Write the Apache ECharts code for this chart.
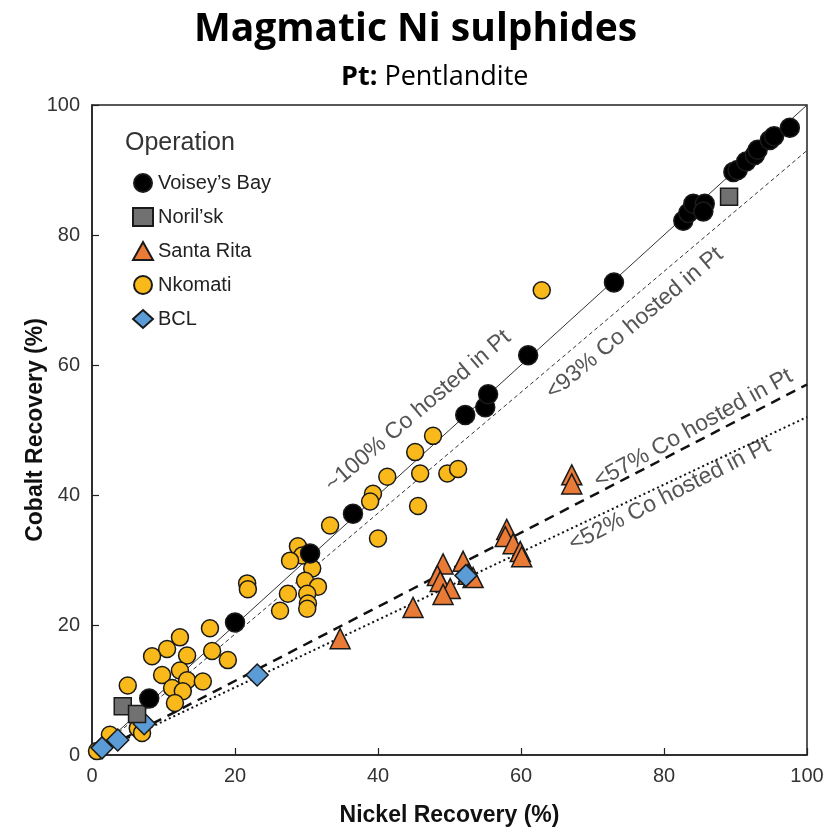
<!DOCTYPE html>
<html><head><meta charset="utf-8">
<script src="https://cdn.jsdelivr.net/npm/echarts@6/dist/echarts.min.js"></script>
<style>html,body{margin:0;padding:0;background:#fff}#c{width:831px;height:832px}</style>
</head><body><div id="c"></div>
<script>
// ---------- data ----------
const seriesNames = ['Voisey\u2019s Bay', 'Noril\u2019sk', 'Santa Rita', 'Nkomati', 'BCL'];

const voiseyNi = [8.0, 20.0, 30.5, 36.5, 52.2, 55.0, 55.4, 61.0, 73.0, 82.7, 83.4, 84.1, 85.7, 85.5, 89.7, 90.3, 91.5, 92.7, 93.1, 94.8, 95.4, 97.6];
const voiseyCo = [8.7, 20.4, 31.0, 37.1, 52.3, 53.5, 55.5, 61.5, 72.7, 82.2, 83.4, 84.8, 84.8, 83.6, 89.7, 90.0, 91.3, 92.3, 93.1, 94.6, 95.2, 96.5];

const norilskNi = [4.3, 6.3, 89.1];
const norilskCo = [7.5, 6.3, 85.9];

const santaRitaNi = [34.7, 44.9, 49.1, 48.3, 48.7, 50.1, 49.1, 51.9, 52.6, 53.3, 58.0, 57.8, 58.9, 59.9, 60.1, 67.1, 67.1];
const santaRitaCo = [17.9, 22.7, 29.4, 27.6, 26.7, 25.6, 24.7, 29.8, 27.8, 27.3, 34.7, 33.6, 32.5, 31.3, 30.5, 43.1, 41.7];

const nkomatiNi = [62.9, 47.7, 45.2, 41.3, 39.3, 38.9, 45.9, 49.7, 51.2, 45.6, 40.0, 33.3, 28.8, 29.4, 27.7, 30.8, 29.8, 31.6, 27.4, 30.1, 30.2, 30.1, 26.3, 21.7, 21.8, 16.5, 12.3, 10.5, 8.4, 13.3, 16.8, 19.0, 9.8, 12.3, 13.3, 15.5, 11.2, 12.7, 11.6, 5.0, 0.7, 2.5, 6.4, 7.0];
const nkomatiCo = [71.5, 49.1, 46.6, 42.8, 40.2, 39.0, 43.3, 43.3, 44.0, 38.3, 33.3, 35.3, 32.1, 30.7, 29.9, 28.7, 26.8, 25.9, 24.8, 24.8, 23.3, 22.5, 22.2, 26.4, 25.5, 19.5, 18.1, 16.3, 15.2, 15.3, 16.0, 14.6, 12.3, 13.0, 11.5, 11.3, 10.3, 9.8, 8.0, 10.7, 0.6, 3.1, 4.1, 3.4];

const bclNi = [1.4, 3.6, 7.3, 23.1, 52.3];
const bclCo = [1.1, 2.3, 4.8, 12.3, 27.6];

// reference lines: Co recovery at Ni = 0 and Ni = 100
const refNames = ['~100% Co hosted in Pt', '<93% Co hosted in Pt', '<57% Co hosted in Pt', '<52% Co hosted in Pt'];
const refEndNi = [100, 100, 100, 100];
const refEndCo = [100, 93, 57, 52];

const xTicks = [0, 20, 40, 60, 80, 100];
const yTicks = [0, 20, 40, 60, 80, 100];

// ---------- layout / style (not data) ----------
const labelAnchor = [[45.6, 52.9], [75.9, 66.4], [84.1, 50.2], [80.8, 40.0]];
const labelRotDeg = [40.5, 40, 29, 27];
const refStyles = [
  {color: '#333', width: 1, type: 'solid'},
  {color: '#333', width: 1, type: [4, 3]},
  {color: '#111', width: 2.5, type: [10, 7]},
  {color: '#111', width: 2, type: [2, 3]}
];

const zip = (a, b) => a.map((v, i) => [v, b[i]]);

const chart = echarts.init(document.getElementById('c'), null, {renderer: 'canvas'});

const scatterDefs = [
  {name: seriesNames[3], x: nkomatiNi, y: nkomatiCo, symbol: 'circle', size: 17, color: '#F9B91A', z: 3},
  {name: seriesNames[2], x: santaRitaNi, y: santaRitaCo, symbol: 'triangle', size: 20, color: '#E97B36', z: 4},
  {name: seriesNames[4], x: bclNi, y: bclCo, symbol: 'diamond', size: 22, color: '#5B9BD6', z: 5},
  {name: seriesNames[1], x: norilskNi, y: norilskCo, symbol: 'rect', size: 17, color: '#717171', z: 6},
  {name: seriesNames[0], x: voiseyNi, y: voiseyCo, symbol: 'circle', size: 19, color: '#000', z: 7}
];

const series = [];
refNames.forEach((n, i) => {
  series.push({
    type: 'line', name: n, data: [[0, 0], [refEndNi[i], refEndCo[i]]],
    showSymbol: false, silent: true, z: 2,
    lineStyle: refStyles[i]
  });
});
scatterDefs.forEach(d => {
  series.push({
    type: 'scatter', name: d.name, data: zip(d.x, d.y),
    symbol: d.symbol, symbolSize: d.size, z: d.z,
    itemStyle: {color: d.color, borderColor: '#1a1a1a', borderWidth: 1.5, opacity: 1}
  });
});

const axisLabelStyle = {fontFamily: 'Liberation Sans', fontSize: 20, color: '#333'};

chart.setOption({
  animation: false,
  backgroundColor: '#fff',
  title: [
    {text: 'Magmatic Ni sulphides', left: 'center', top: 5,
     textStyle: {fontFamily: 'Open Sans', fontWeight: 'bold', fontSize: 39, color: '#000'}},
    {text: '{b|Pt:} Pentlandite', left: 336, top: 59,
     textStyle: {fontFamily: 'Open Sans', fontWeight: 'normal', fontSize: 27, color: '#000',
       rich: {b: {fontFamily: 'Open Sans', fontWeight: 'bold', fontSize: 27, color: '#000'}}}}
  ],
  grid: {left: 92, right: 24, top: 105, bottom: 75, show: true, borderColor: '#222', borderWidth: 1.5},
  legend: {
    data: seriesNames, orient: 'vertical', left: 127, top: 168,
    itemWidth: 20, itemHeight: 18, itemGap: 14,
    textStyle: {fontFamily: 'Liberation Sans', fontSize: 20, color: '#222', padding: [0, 0, 0, 0]}
  },
  xAxis: {
    type: 'value', min: 0, max: 100, interval: 20,
    name: 'Nickel Recovery (%)', nameLocation: 'middle', nameGap: 49, nameMoveOverlap: false,
    nameTextStyle: {fontFamily: 'Liberation Sans', fontWeight: 'bold', fontSize: 23, color: '#111'},
    axisLine: {lineStyle: {color: '#222', width: 1.5}},
    axisTick: {inside: true, length: 7, lineStyle: {color: '#222', width: 1.2}},
    axisLabel: Object.assign({margin: 11, formatter: v => xTicks.includes(v) ? String(v) : ''}, axisLabelStyle),
    splitLine: {show: false}
  },
  yAxis: {
    type: 'value', min: 0, max: 100, interval: 20,
    name: 'Cobalt Recovery (%)', nameLocation: 'middle', nameGap: 45, nameMoveOverlap: false,
    nameTextStyle: {fontFamily: 'Liberation Sans', fontWeight: 'bold', fontSize: 23, color: '#111'},
    axisLine: {lineStyle: {color: '#222', width: 1.5}},
    axisTick: {inside: true, length: 7, lineStyle: {color: '#222', width: 1.2}},
    axisLabel: Object.assign({margin: 12, formatter: v => yTicks.includes(v) ? String(v) : ''}, axisLabelStyle),
    splitLine: {show: false}
  },
  series: series
});

const graphics = [{
  type: 'text', left: 125, top: 131, silent: true,
  style: {text: 'Operation', fontFamily: 'Liberation Sans', fontSize: 25, fill: '#333'}
}];
refNames.forEach((n, i) => {
  const p = chart.convertToPixel({gridIndex: 0}, labelAnchor[i]);
  graphics.push({
    type: 'text', x: p[0], y: p[1], rotation: labelRotDeg[i] * Math.PI / 180, silent: true,
    style: {text: n, fontFamily: 'Liberation Sans', fontSize: 23, fill: '#555', align: 'center', verticalAlign: 'middle'}
  });
});
chart.setOption({graphic: graphics});
</script>
</body></html>
